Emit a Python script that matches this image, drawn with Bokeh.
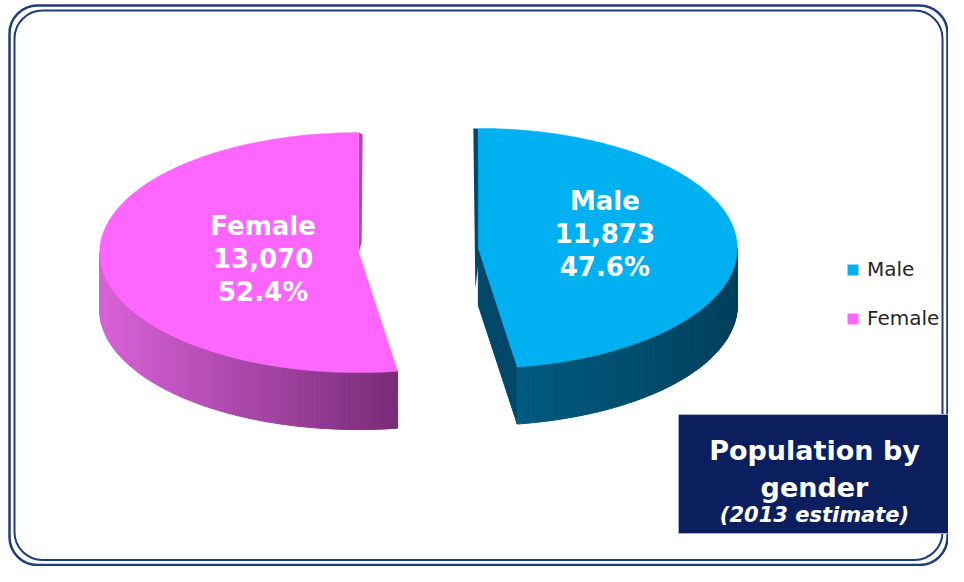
import numpy as np
from bokeh.plotting import figure
from bokeh.models import Range1d, BoxAnnotation, Legend, LegendItem
from bokeh.embed import file_html
from bokeh.resources import INLINE
from bokeh.core.properties import value

# ---- data ----
categories = ["Male", "Female"]
population = [11873, 13070]
top_colors = ["#00B0F0", "#FF66FF"]
title_lines = ["Population by", "gender"]
subtitle = "(2013 estimate)"

# ---- figure ----
W, H = 948, 566
p = figure(width=W, height=H, output_backend="svg", toolbar_location=None,
           x_range=Range1d(0, W), y_range=Range1d(H, 0),
           x_axis_location=None, y_axis_location=None, min_border=0)
p.grid.visible = False
p.outline_line_color = None
p.background_fill_color = "white"
p.border_fill_color = "white"

# outer double rounded frame
for (l, r, t, b, lw) in [(9, 947, 5, 564.5, 2.5), (14, 942, 10, 559.5, 2)]:
    p.add_layout(BoxAnnotation(left=l, right=r, top=t, bottom=b, fill_alpha=0,
                               line_color="#1F3D7C", line_alpha=1, line_width=lw,
                               border_radius=28, level="underlay"))

# ---- pie geometry ----
CX, CY = 418, 250
RX, RY = 259, 120
EXPLODE = 60
DEPTH = 57
side_grad = {"Male": ("#005B80", "#00405C"), "Female": ("#D862D8", "#782B78")}
wall_color = {"Male": "#00486A", "Female": "#B04AB0"}
label_k = {"Male": 0.49, "Female": 0.37}
label_dy = {"Male": -10, "Female": 3}


def mix(c1, c2, f):
    a = [int(c1[i:i + 2], 16) for i in (1, 3, 5)]
    b = [int(c2[i:i + 2], 16) for i in (1, 3, 5)]
    return "#%02x%02x%02x" % tuple(int(round(a[i] + (b[i] - a[i]) * f)) for i in range(3))


total = float(sum(population))
start = 0.0
tops = []
for cat, val, col in zip(categories, population, top_colors):
    share = val / total
    a0, a1 = start, start + 2 * np.pi * share
    start = a1
    bis = (a0 + a1) / 2
    cx = CX + EXPLODE * np.sin(bis)
    cy = CY - EXPLODE * (RY / RX) * np.cos(bis)

    def pt(th):
        return cx + RX * np.sin(th), cy - RY * np.cos(th)

    # radial wall at end angle (visible for slice ending on the front-left)
    ex, ey = pt(a1)
    if np.pi / 2 < a1 < np.pi:
        p.patch([cx, ex, ex, cx], [cy, ey, ey + DEPTH, cy + DEPTH],
                fill_color=wall_color[cat], line_color=wall_color[cat], line_width=1)
    # thin visible sliver of the wall at 12 o'clock (perspective)
    if a0 == 0:
        sx, sy = pt(0.0)
        p.patch([sx - 5, sx, cx + 2, cx - 3], [sy, sy, cy, cy + 40],
                fill_color=wall_color[cat], line_color=None)
    elif a1 >= 2 * np.pi - 1e-9:
        sx, sy = pt(a1)
        p.patch([sx, sx + 4, cx + 3, cx], [sy, sy + 2, cy - 10, cy],
                fill_color=wall_color[cat], line_color=None)

    # outer visible side (front half)
    s0, s1 = max(a0, np.pi / 2), min(a1, 3 * np.pi / 2)
    if s1 > s0:
        n = 80
        th = np.linspace(s0, s1, n + 1)
        px, py = pt(th)
        xmin, xmax = px.min(), px.max()
        xs, ys, cs = [], [], []
        for i in range(n):
            xs.append([px[i], px[i + 1], px[i + 1], px[i]])
            ys.append([py[i], py[i + 1], py[i + 1] + DEPTH, py[i] + DEPTH])
            f = ((px[i] + px[i + 1]) / 2 - xmin) / (xmax - xmin)
            c1, c2 = side_grad[cat]
            cs.append(mix(c1, c2, f))
        p.patches(xs, ys, fill_color=cs, line_color=cs, line_width=1)

    # top surface
    th = np.linspace(a0, a1, 200)
    tx, ty = pt(th)
    r = p.patch(np.concatenate([[cx], tx]), np.concatenate([[cy], ty]),
                fill_color=col, line_color=col, line_width=0.5)
    tops.append((cat, r))

    # label
    k = label_k[cat]
    lx = cx + k * RX * np.sin(bis)
    ly = cy - k * RY * np.cos(bis) + label_dy[cat]
    p.text(x=[lx], y=[ly], text=[f"{cat}\n{val:,}\n{share * 100:.1f}%"],
           text_align="center", text_baseline="middle", text_color="white",
           text_font=value("DejaVu Sans"), text_font_style="bold",
           text_font_size="26px", text_line_height=1.1)

# ---- legend ----
legend = Legend(items=[LegendItem(label=c, renderers=[r]) for c, r in tops],
                location=(846, 236), glyph_width=13, glyph_height=13,
                label_standoff=8, spacing=25, padding=0, margin=0,
                border_line_color=None, background_fill_alpha=0,
                label_text_font="DejaVu Sans", label_text_font_size="20px",
                label_text_color="#262626")
p.add_layout(legend)

# ---- title box ----
p.quad(left=[678], right=[950], top=[414], bottom=[533],
       fill_color="#0B1F5E", line_color="#A9B3CC", line_width=1)
p.text(x=[814, 814], y=[450, 487], text=title_lines, text_align="center",
       text_baseline="alphabetic", text_color="white",
       text_font=value("DejaVu Sans"), text_font_style="bold", text_font_size="27px")
p.text(x=[814], y=[514], text=[subtitle], text_align="center",
       text_baseline="alphabetic", text_color="white",
       text_font=value("DejaVu Sans"), text_font_style="bold italic", text_font_size="21px")

open("out.html", "w").write(file_html(p, INLINE))
